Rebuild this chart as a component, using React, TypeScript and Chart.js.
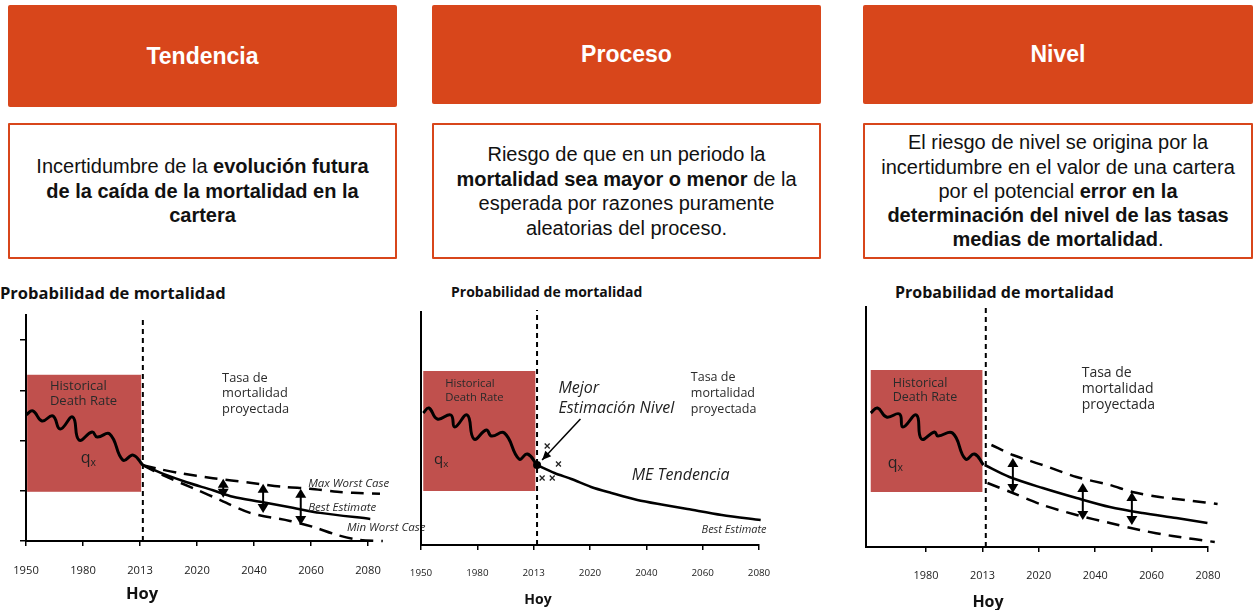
import React, { useEffect, useRef } from "react";
import { Chart, registerables } from "chart.js";

Chart.register(...registerables);

const FONT = '"Open Sans", "DejaVu Sans", sans-serif';
const ARIAL = '"Liberation Sans", Arial, sans-serif';
const ORANGE = "#D8461B";
const HIST_RED = "#C0504D";

// ---------- axis categories (equally spaced positions on the time axis) ----------
const YEAR_TICKS = [0, 1, 2, 3, 4, 5, 6];
const YEAR_LABELS = ["1950", "1980", "2013", "2020", "2040", "2060", "2080"];
const NIVEL_TICKS = [1, 2, 3, 4, 5, 6];
const NIVEL_LABELS = ["1980", "2013", "2020", "2040", "2060", "2080"];
const LEVEL_TICKS = [0, 1, 2, 3, 4];
const TODAY_T = 2.05; // "Hoy" (2013) marker position, Tendencia
const TODAY_P = 2.06; // Proceso
const TODAY_N = 2.06; // Nivel

// ---------- Panel 1 : Tendencia ----------
const T_HIST_X = [0, 0.12, 0.28, 0.47, 0.6, 0.82, 0.93, 1.16, 1.25, 1.47, 1.7, 1.88, 2.05];
const T_HIST_Y = [2.51, 2.59, 2.39, 2.49, 2.23, 2.47, 2.01, 2.17, 2.07, 2.13, 1.61, 1.71, 1.51];
const T_BEST_X = [2.05, 2.47, 2.82, 3.28, 3.63, 4.11, 4.68, 5.16, 6.04];
const T_BEST_Y = [1.51, 1.31, 1.17, 1.01, 0.88, 0.78, 0.66, 0.56, 0.44];
const T_MAX_X = [2.05, 2.35, 2.7, 3.28, 3.93, 4.51, 4.98, 5.46, 5.74, 6.21];
const T_MAX_Y = [1.51, 1.43, 1.35, 1.25, 1.16, 1.08, 1.04, 0.98, 0.96, 0.94];
const T_MIN_X = [2.05, 2.4, 3.0, 3.4, 3.93, 4.63, 5.04, 5.46, 5.86, 6.26];
const T_MIN_Y = [1.51, 1.31, 1.02, 0.82, 0.56, 0.4, 0.28, 0.12, 0.02, 0.0];
const T_ARROW_X = [3.46, 4.16, 4.82];
const T_ARROW_TOP = [1.24, 1.14, 1.04];
const T_ARROW_BOT = [0.86, 0.56, 0.32];
const T_HIST_BOX = [0.02, 2.02, 0.98, 3.31]; // x0, x1, y0, y1

// ---------- Panel 2 : Proceso ----------
const P_HIST_X = [0.04, 0.14, 0.29, 0.53, 0.6, 0.82, 0.94, 1.16, 1.25, 1.48, 1.74, 1.89, 2.06];
const P_HIST_Y = [2.64, 2.74, 2.52, 2.6, 2.36, 2.6, 2.12, 2.3, 2.18, 2.24, 1.72, 1.82, 1.6];
const P_BEST_X = [2.06, 2.37, 2.67, 3.02, 3.38, 3.84, 4.32, 4.73, 5.34, 6.03];
const P_BEST_Y = [1.6, 1.44, 1.32, 1.16, 1.04, 0.9, 0.8, 0.72, 0.6, 0.5];
const P_OBS_X = [2.24, 2.44, 2.15, 2.33];
const P_OBS_Y = [1.98, 1.62, 1.34, 1.34];
const P_POINTER = [2.83, 2.52, 2.15, 1.7]; // from x,y to x,y
const P_HIST_BOX = [0.04, 2.03, 1.08, 3.48];

// ---------- Panel 3 : Nivel ----------
const N_HIST_X = [0.02, 0.14, 0.3, 0.53, 0.59, 0.83, 0.92, 1.15, 1.21, 1.47, 1.7, 1.86, 2.02];
const N_HIST_Y = [2.68, 2.78, 2.6, 2.66, 2.4, 2.64, 2.16, 2.3, 2.22, 2.28, 1.76, 1.86, 1.64];
const N_BEST_X = [2.04, 2.48, 3.07, 3.67, 4.26, 4.84, 5.44, 5.99];
const N_BEST_Y = [1.64, 1.4, 1.18, 0.98, 0.8, 0.68, 0.58, 0.48];
const N_UP_X = [2.16, 2.54, 3.07, 3.67, 4.26, 4.66, 5.14, 5.73, 6.17];
const N_UP_Y = [2.04, 1.84, 1.64, 1.4, 1.24, 1.1, 1.0, 0.92, 0.86];
const N_LOW_X = [2.09, 2.54, 3.07, 3.67, 4.26, 4.79, 5.37, 6.12];
const N_LOW_Y = [1.28, 1.08, 0.84, 0.64, 0.48, 0.34, 0.22, 0.1];
const N_ARROW_X = [2.54, 3.78, 4.65];
const N_ARROW_TOP = [1.78, 1.28, 1.1];
const N_ARROW_BOT = [1.08, 0.54, 0.44];
const N_HIST_BOX = [0.02, 2.0, 1.1, 3.54];

// ---------- types ----------
type TextItem = {
  t: string;
  x: number;
  y: number;
  size: number;
  italic?: boolean;
  sub?: string;
  color?: string;
};

type PanelSpec = {
  left: number;
  top: number;
  w: number;
  h: number;
  padTop: number;
  padRight: number;
  yAxisW: number;
  xAxisH: number;
  xMin: number;
  yMax: number;
  ticks: number[];
  labels: string[];
  tickSize: number;
  tickPad: number;
  yTicks: number[];
  box: number[];
  datasets: any[];
  texts: TextItem[];
  arrows: { x: number[]; top: number[]; bot: number[] } | null;
  pointer: number[] | null;
};

const pts = (xs: number[], ys: number[]) => xs.map((x, i) => ({ x, y: ys[i] }));

const histLine = (xs: number[], ys: number[]) => ({
  data: pts(xs, ys),
  borderColor: "#000",
  borderWidth: 3,
  tension: 0.45,
  pointRadius: 0,
  fill: false,
  clip: false,
});
const bestLine = (xs: number[], ys: number[], dot = false) => ({
  data: pts(xs, ys),
  borderColor: "#000",
  borderWidth: 2.5,
  tension: 0.3,
  pointRadius: (c: any) => (dot && c.dataIndex === 0 ? 4 : 0),
  pointBackgroundColor: "#000",
  pointBorderWidth: 0,
  fill: false,
  clip: false,
});
const dashedLine = (xs: number[], ys: number[]) => ({
  data: pts(xs, ys),
  borderColor: "#000",
  borderWidth: 2.5,
  borderDash: [13, 8],
  tension: 0.3,
  pointRadius: 0,
  fill: false,
  clip: false,
});
const todayLine = (x: number, top: number) => ({
  data: [
    { x, y: 0 },
    { x, y: top },
  ],
  borderColor: "#000",
  borderWidth: 2,
  borderDash: [5, 4],
  pointRadius: 0,
  fill: false,
  clip: false,
});

function head(ctx: CanvasRenderingContext2D, tx: number, ty: number, fx: number, fy: number, len: number, hw: number) {
  const a = Math.atan2(ty - fy, tx - fx);
  const bx = tx - len * Math.cos(a);
  const by = ty - len * Math.sin(a);
  ctx.beginPath();
  ctx.moveTo(tx, ty);
  ctx.lineTo(bx + hw * Math.sin(a), by - hw * Math.cos(a));
  ctx.lineTo(bx - hw * Math.sin(a), by + hw * Math.cos(a));
  ctx.closePath();
  ctx.fill();
}

function makeDecor(spec: PanelSpec) {
  return {
    id: "decor",
    beforeDatasetsDraw(chart: any) {
      const { ctx, scales } = chart;
      const xs = scales.x;
      const ys = scales.y;
      const [x0, x1, y0, y1] = spec.box;
      const px0 = xs.getPixelForValue(x0);
      const px1 = xs.getPixelForValue(x1);
      const py0 = ys.getPixelForValue(y1);
      const py1 = ys.getPixelForValue(y0);
      ctx.save();
      ctx.fillStyle = HIST_RED;
      ctx.fillRect(px0, py0, px1 - px0, py1 - py0);
      ctx.restore();
    },
    afterDatasetsDraw(chart: any) {
      const { ctx, scales } = chart;
      const xs = scales.x;
      const ys = scales.y;
      ctx.save();
      ctx.fillStyle = "#000";
      ctx.strokeStyle = "#000";
      if (spec.arrows) {
        const a = spec.arrows;
        a.x.forEach((xv, i) => {
          const px = xs.getPixelForValue(xv);
          const pt = ys.getPixelForValue(a.top[i]);
          const pb = ys.getPixelForValue(a.bot[i]);
          ctx.lineWidth = 2;
          ctx.beginPath();
          ctx.moveTo(px, pt + 6);
          ctx.lineTo(px, pb - 6);
          ctx.stroke();
          head(ctx, px, pt, px, pb, 9, 5.5);
          head(ctx, px, pb, px, pt, 9, 5.5);
        });
      }
      if (spec.pointer) {
        const [ax, ay, bx, by] = spec.pointer;
        const p1x = xs.getPixelForValue(ax);
        const p1y = ys.getPixelForValue(ay);
        const p2x = xs.getPixelForValue(bx);
        const p2y = ys.getPixelForValue(by);
        ctx.lineWidth = 1.5;
        ctx.beginPath();
        ctx.moveTo(p1x, p1y);
        ctx.lineTo(p2x, p2y);
        ctx.stroke();
        head(ctx, p2x, p2y, p1x, p1y, 9, 4);
      }
      ctx.textBaseline = "middle";
      ctx.textAlign = "left";
      spec.texts.forEach((t) => {
        const px = xs.getPixelForValue(t.x);
        const py = ys.getPixelForValue(t.y);
        ctx.fillStyle = t.color || "#2a2a2a";
        ctx.font = `${t.italic ? "italic " : ""}${t.size}px ${FONT}`;
        ctx.fillText(t.t, px, py);
        if (t.sub) {
          const w = ctx.measureText(t.t).width;
          ctx.font = `${t.size * 0.65}px ${FONT}`;
          ctx.fillText(t.sub, px + w, py + t.size * 0.3);
        }
      });
      ctx.restore();
    },
  };
}

function buildConfig(spec: PanelSpec): any {
  return {
    type: "line",
    data: { datasets: spec.datasets },
    options: {
      animation: false,
      responsive: false,
      maintainAspectRatio: false,
      events: [],
      layout: { padding: { left: 0, top: spec.padTop, right: spec.padRight, bottom: 0 } },
      plugins: {
        legend: { display: false },
        tooltip: { enabled: false },
        title: { display: false },
      },
      scales: {
        x: {
          type: "linear",
          min: spec.xMin,
          max: 6,
          afterBuildTicks: (s: any) => {
            s.ticks = spec.ticks.map((v) => ({ value: v }));
          },
          afterFit: (s: any) => {
            s.height = spec.xAxisH;
            s.paddingLeft = 0;
            s.paddingRight = 0;
          },
          ticks: {
            autoSkip: false,
            maxRotation: 0,
            padding: spec.tickPad,
            color: "#222",
            font: { family: FONT, size: spec.tickSize },
            callback: (_v: any, i: number) => spec.labels[i] ?? "",
          },
          grid: {
            drawOnChartArea: false,
            drawTicks: true,
            tickLength: 5,
            color: "#000",
            lineWidth: 1.5,
          },
          border: { display: true, color: "#000", width: 2 },
        },
        y: {
          type: "linear",
          min: 0,
          max: spec.yMax,
          afterBuildTicks: (s: any) => {
            s.ticks = spec.yTicks.map((v) => ({ value: v }));
          },
          afterFit: (s: any) => {
            s.width = spec.yAxisW;
            s.paddingTop = 0;
            s.paddingBottom = 0;
          },
          ticks: { display: false },
          grid: {
            display: spec.yTicks.length > 0,
            drawOnChartArea: false,
            drawTicks: true,
            tickLength: 6,
            color: "#000",
            lineWidth: 1.5,
          },
          border: { display: true, color: "#000", width: 2 },
        },
      },
    },
    plugins: [makeDecor(spec)],
  };
}

const PANEL_T: PanelSpec = {
  left: 0,
  top: 270,
  w: 440,
  h: 340,
  padTop: 45,
  padRight: 72,
  yAxisW: 26,
  xAxisH: 69,
  xMin: 0,
  yMax: 4.5,
  ticks: YEAR_TICKS,
  labels: YEAR_LABELS,
  tickSize: 11.2,
  tickPad: 18,
  yTicks: LEVEL_TICKS,
  box: T_HIST_BOX,
  datasets: [
    todayLine(TODAY_T, 4.44),
    histLine(T_HIST_X, T_HIST_Y),
    dashedLine(T_MAX_X, T_MAX_Y),
    dashedLine(T_MIN_X, T_MIN_Y),
    bestLine(T_BEST_X, T_BEST_Y),
  ],
  texts: [
    { t: "Historical", x: 0.42, y: 3.09, size: 13 },
    { t: "Death Rate", x: 0.42, y: 2.79, size: 13 },
    { t: "q", sub: "x", x: 0.96, y: 1.65, size: 16, color: "#222" },
    { t: "Tasa de", x: 3.44, y: 3.23, size: 12.8 },
    { t: "mortalidad", x: 3.44, y: 2.93, size: 12.8 },
    { t: "proyectada", x: 3.44, y: 2.63, size: 12.8 },
    { t: "Max Worst Case", x: 4.95, y: 1.14, size: 11.5, italic: true },
    { t: "Best Estimate", x: 4.95, y: 0.66, size: 11.5, italic: true },
    { t: "Min Worst Case", x: 5.63, y: 0.26, size: 11.5, italic: true },
  ],
  arrows: { x: T_ARROW_X, top: T_ARROW_TOP, bot: T_ARROW_BOT },
  pointer: null,
};

const PANEL_P: PanelSpec = {
  left: 400,
  top: 270,
  w: 430,
  h: 340,
  padTop: 42,
  padRight: 71,
  yAxisW: 21,
  xAxisH: 65,
  xMin: 0,
  yMax: 4.66,
  ticks: YEAR_TICKS,
  labels: YEAR_LABELS,
  tickSize: 9.8,
  tickPad: 17,
  yTicks: [],
  box: P_HIST_BOX,
  datasets: [
    todayLine(TODAY_P, 4.7),
    histLine(P_HIST_X, P_HIST_Y),
    bestLine(P_BEST_X, P_BEST_Y, true),
    {
      data: pts(P_OBS_X, P_OBS_Y),
      showLine: false,
      pointStyle: "crossRot",
      pointRadius: 3.5,
      pointBorderWidth: 1.3,
      pointBorderColor: "#222",
      clip: false,
    },
  ],
  texts: [
    { t: "Historical", x: 0.43, y: 3.22, size: 11.3 },
    { t: "Death Rate", x: 0.43, y: 2.94, size: 11.3 },
    { t: "q", sub: "x", x: 0.23, y: 1.7, size: 15, color: "#222" },
    { t: "Mejor", x: 2.44, y: 3.14, size: 16, italic: true, color: "#222" },
    { t: "Estimación Nivel", x: 2.44, y: 2.74, size: 16, italic: true, color: "#222" },
    { t: "Tasa de", x: 4.79, y: 3.36, size: 12.5 },
    { t: "mortalidad", x: 4.79, y: 3.04, size: 12.5 },
    { t: "proyectada", x: 4.79, y: 2.72, size: 12.5 },
    { t: "ME Tendencia", x: 3.74, y: 1.4, size: 16, italic: true, color: "#222" },
    { t: "Best Estimate", x: 4.98, y: 0.3, size: 11, italic: true },
  ],
  arrows: null,
  pointer: P_POINTER,
};

const PANEL_N: PanelSpec = {
  left: 840,
  top: 270,
  w: 416,
  h: 340,
  padTop: 37,
  padRight: 48,
  yAxisW: 26,
  xAxisH: 63,
  xMin: -0.064,
  yMax: 4.8,
  ticks: NIVEL_TICKS,
  labels: NIVEL_LABELS,
  tickSize: 10.9,
  tickPad: 17,
  yTicks: [],
  box: N_HIST_BOX,
  datasets: [
    todayLine(TODAY_N, 4.8),
    histLine(N_HIST_X, N_HIST_Y),
    dashedLine(N_UP_X, N_UP_Y),
    dashedLine(N_LOW_X, N_LOW_Y),
    bestLine(N_BEST_X, N_BEST_Y),
  ],
  texts: [
    { t: "Historical", x: 0.41, y: 3.28, size: 12.5 },
    { t: "Death Rate", x: 0.41, y: 3.0, size: 12.5 },
    { t: "q", sub: "x", x: 0.32, y: 1.68, size: 16, color: "#222" },
    { t: "Tasa de", x: 3.76, y: 3.48, size: 14 },
    { t: "mortalidad", x: 3.76, y: 3.16, size: 14 },
    { t: "proyectada", x: 3.76, y: 2.84, size: 14 },
  ],
  arrows: { x: N_ARROW_X, top: N_ARROW_TOP, bot: N_ARROW_BOT },
  pointer: null,
};

function PanelChart({ spec }: { spec: PanelSpec }) {
  const ref = useRef<HTMLCanvasElement>(null);
  useEffect(() => {
    if (!ref.current) return;
    const chart = new Chart(ref.current, buildConfig(spec));
    return () => chart.destroy();
  }, [spec]);
  return (
    <canvas
      ref={ref}
      width={spec.w}
      height={spec.h}
      style={{ position: "absolute", left: spec.left, top: spec.top, width: spec.w, height: spec.h }}
    />
  );
}

const headerStyle = (left: number, width: number, height: number): React.CSSProperties => ({
  position: "absolute",
  left,
  top: 5,
  width,
  height,
  background: ORANGE,
  borderRadius: 2,
  color: "#fff",
  fontFamily: ARIAL,
  fontWeight: "bold",
  fontSize: 23,
  display: "flex",
  alignItems: "center",
  justifyContent: "center",
});

const boxStyle = (left: number, width: number): React.CSSProperties => ({
  position: "absolute",
  left,
  top: 123,
  width,
  height: 136,
  boxSizing: "border-box",
  border: `2.5px solid ${ORANGE}`,
  borderRadius: 1,
  background: "#fff",
  color: "#111",
  fontFamily: ARIAL,
  fontSize: 20,
  lineHeight: "24.5px",
  display: "flex",
  alignItems: "center",
  justifyContent: "center",
  textAlign: "center",
});

const label = (left: number, top: number, size: number, text: string, center = false): JSX.Element => (
  <div
    style={{
      position: "absolute",
      left: center ? left - 100 : left,
      width: center ? 200 : undefined,
      top: top - size * 0.7,
      fontFamily: FONT,
      fontWeight: 700,
      fontSize: size,
      lineHeight: `${size * 1.4}px`,
      color: "#111",
      whiteSpace: "nowrap",
      textAlign: center ? "center" : "left",
    }}
  >
    {text}
  </div>
);

export default function App() {
  return (
    <div
      style={{
        position: "absolute",
        left: 0,
        top: 0,
        width: 1256,
        height: 610,
        background: "#fff",
        overflow: "hidden",
      }}
    >
      <div style={headerStyle(8, 389, 102)}>Tendencia</div>
      <div style={headerStyle(432, 389, 99)}>Proceso</div>
      <div style={headerStyle(863, 390, 99)}>Nivel</div>

      <div style={boxStyle(8, 389)}>
        <div>
          Incertidumbre de la <b>evolución futura</b>
          <br />
          <b>de la caída de la mortalidad en la</b>
          <br />
          <b>cartera</b>
        </div>
      </div>
      <div style={boxStyle(432, 389)}>
        <div>
          Riesgo de que en un periodo la
          <br />
          <b>mortalidad sea mayor o menor</b> de la
          <br />
          esperada por razones puramente
          <br />
          aleatorias del proceso.
        </div>
      </div>
      <div style={boxStyle(863, 390)}>
        <div style={{ lineHeight: "24.3px" }}>
          El riesgo de nivel se origina por la
          <br />
          incertidumbre en el valor de una cartera
          <br />
          por el potencial <b>error en la</b>
          <br />
          <b>determinación del nivel de las tasas</b>
          <br />
          <b>medias de mortalidad</b>.
        </div>
      </div>

      {label(0, 293, 16.5, "Probabilidad de mortalidad")}
      {label(451, 292, 14, "Probabilidad de mortalidad")}
      {label(895, 292, 16, "Probabilidad de mortalidad")}

      <PanelChart spec={PANEL_T} />
      <PanelChart spec={PANEL_P} />
      <PanelChart spec={PANEL_N} />

      {label(142, 593, 16.5, "Hoy", true)}
      {label(538, 599, 14, "Hoy", true)}
      {label(988, 601, 16, "Hoy", true)}
    </div>
  );
}
